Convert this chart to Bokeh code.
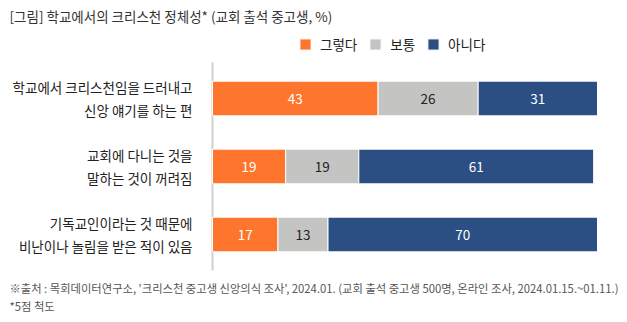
from bokeh.plotting import figure
from bokeh.models import Range1d, Label, Legend, LegendItem, ColumnDataSource
from bokeh.core.properties import value
from bokeh.embed import file_html
from bokeh.resources import INLINE

FONT = "Noto Sans CJK KR"

title_text = "[그림] 학교에서의 크리스천 정체성* (교회 출석 중고생, %)"
categories = [
    "학교에서 크리스천임을 드러내고\n신앙 얘기를 하는 편",
    "교회에 다니는 것을\n말하는 것이 꺼려짐",
    "기독교인이라는 것 때문에\n비난이나 놀림을 받은 적이 있음",
]
series_names = ["그렇다", "보통", "아니다"]
yes_vals = [43, 19, 17]
neutral_vals = [26, 19, 13]
no_vals = [31, 61, 70]
colors = ["#FE752D", "#C4C4C2", "#2B4F82"]
label_colors = ["white", "#222222", "white"]
footer1 = "※출처 : 목회데이터연구소, '크리스천 중고생 신앙의식 조사', 2024.01. (교회 출석 중고생 500명, 온라인 조사, 2024.01.15.~01.11.)"
footer2 = "*5점 척도"

W, H = 627, 322
keys = ["yes", "neutral", "no"]
rows = list(range(len(categories)))
src = ColumnDataSource(dict(row=rows, yes=yes_vals, neutral=neutral_vals, no=no_vals))

# layout: value 0 at px 212, 100 at px 597; rows 68px apart, first row centred at px 98
px_per_unit = 3.85
x0_px = 212
row_px = 68.0
row0_px = 98.0
p = figure(
    width=W, height=H,
    x_range=Range1d(-x0_px / px_per_unit, (W - x0_px) / px_per_unit),
    y_range=Range1d((H - row0_px) / row_px, -row0_px / row_px),
    output_backend="svg", toolbar_location=None,
    min_border=0,
)
p.outline_line_color = None
p.xgrid.visible = False
p.ygrid.visible = False
p.xaxis.visible = False
p.yaxis.visible = False
p.background_fill_color = "white"
p.border_fill_color = "white"

# axis line
pad = 0.03
p.segment(x0=[0], x1=[0], y0=[rows[0] - 0.5 - pad], y1=[rows[-1] + 0.5 + pad],
          line_color="#D0D0D0", line_width=2)

rs = p.hbar_stack(keys, y="row", height=0.51, color=colors, source=src,
                  line_color="white", line_width=1)

# value labels
vals = [yes_vals, neutral_vals, no_vals]
for i, k in enumerate(keys):
    mids = []
    for j in range(len(categories)):
        start = sum(vals[m][j] for m in range(i))
        mids.append(start + vals[i][j] / 2)
    s = ColumnDataSource(dict(x=mids, y=rows, t=[str(v) for v in vals[i]]))
    p.text(x="x", y="y", text="t", source=s, text_align="center", text_baseline="middle",
           text_color=label_colors[i], text_font=value(FONT), text_font_size="13.5px")

# category labels
cs = ColumnDataSource(dict(x=[-20 / px_per_unit] * len(rows), y=rows, t=categories))
p.text(x="x", y="y", text="t", source=cs, text_align="right", text_baseline="middle",
       text_color="#222222", text_font=value(FONT), text_font_size="13.5px",
       text_line_height=1.13)

legend = Legend(
    items=[LegendItem(label=n, renderers=[r]) for n, r in zip(series_names, rs)],
    orientation="horizontal", location=(298, 268),
    glyph_width=14, glyph_height=14, label_height=14, label_standoff=8, spacing=11,
    padding=0, margin=0, border_line_color=None, background_fill_alpha=0,
    label_text_font=FONT, label_text_font_size="13.5px", label_text_color="#222222",
    label_text_baseline="middle",
)
p.add_layout(legend, "center")

p.add_layout(Label(x=9, y=H - 15, x_units="screen", y_units="screen", text=title_text,
                   text_font=FONT, text_font_size="13.5px", text_color="#333333",
                   text_baseline="middle"))
p.add_layout(Label(x=9, y=H - 287, x_units="screen", y_units="screen", text=footer1,
                   text_font=FONT, text_font_size="11.3px", text_color="#555555",
                   text_baseline="middle"))
p.add_layout(Label(x=9, y=H - 305, x_units="screen", y_units="screen", text=footer2,
                   text_font=FONT, text_font_size="11.3px", text_color="#555555",
                   text_baseline="middle"))

open("out.html", "w").write(file_html(p, INLINE))
